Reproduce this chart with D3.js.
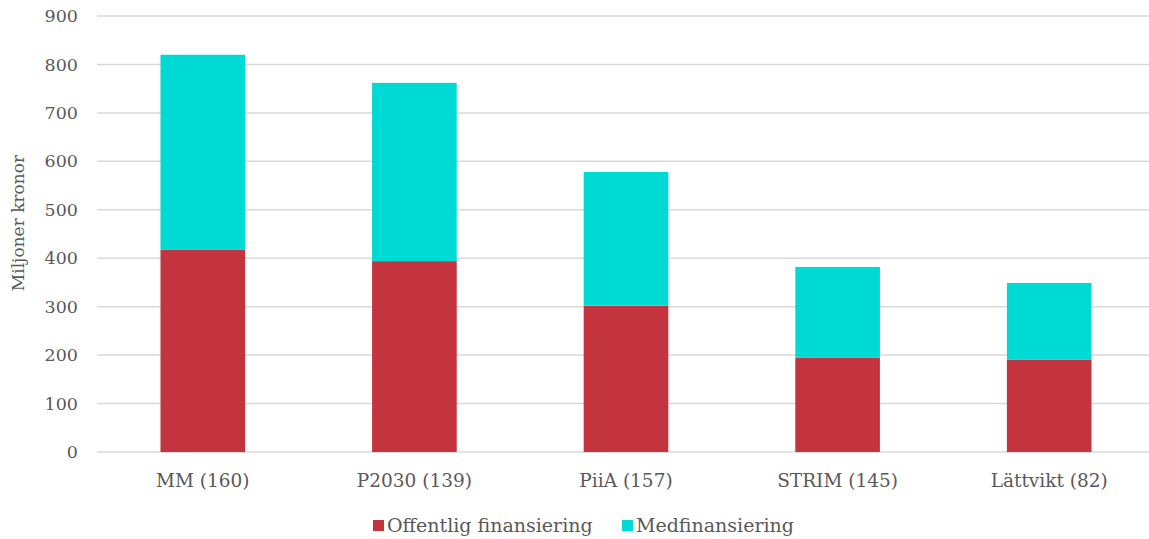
<!DOCTYPE html>
<html>
<head>
<meta charset="utf-8">
<script src="https://cdn.jsdelivr.net/npm/d3@7"></script>
<style>
  html, body { margin: 0; padding: 0; background: #fff; }
  svg text { font-family: Georgia, "DejaVu Serif", serif; fill: #595959; }
</style>
</head>
<body>
<svg id="chart" width="1149" height="539"></svg>
<script>
// Projects with number of participants in parentheses
const categories = ["MM (160)", "P2030 (139)", "PiiA (157)", "STRIM (145)", "Lättvikt (82)"];
// Million SEK, public funding and co-funding
const offentlig = [418, 394, 302, 195, 191];
const medfinansiering = [402, 368, 276, 187, 158];
const seriesNames = ["Offentlig finansiering", "Medfinansiering"];
const seriesColors = ["#C3343F", "#00DAD4"];
const yTicks = [0, 100, 200, 300, 400, 500, 600, 700, 800, 900];

(function draw() {
  const svg = d3.select("#chart");
  const mLeft = 97, mRight = 1155, mTop = 16, mBottom = 452;

  const x = d3.scaleBand().domain(categories).range([mLeft, mRight]).paddingInner(0.6).paddingOuter(0.3);
  const y = d3.scaleLinear().domain([0, 900]).range([mBottom, mTop]);

  // horizontal gridlines
  svg.append("g").selectAll("line").data(yTicks).join("line")
    .attr("x1", mLeft).attr("x2", mRight)
    .attr("y1", d => y(d)).attr("y2", d => y(d))
    .attr("stroke", "#d9d9d9").attr("stroke-width", 1.5);

  // y tick labels
  svg.append("g").selectAll("text").data(yTicks).join("text")
    .attr("x", 78).attr("y", d => y(d)).attr("dy", "0.35em")
    .attr("text-anchor", "end").attr("font-size", 17.5)
    .text(d => d);

  // y axis title
  svg.append("text")
    .attr("transform", "translate(24,223) rotate(-90)")
    .attr("text-anchor", "middle").attr("font-size", 17)
    .text("Miljoner kronor");

  // stacked bars
  const rows = categories.map((c, i) => ({ cat: c, off: offentlig[i], med: medfinansiering[i] }));
  const stack = d3.stack().keys(["off", "med"])(rows);
  svg.append("g").selectAll("g").data(stack).join("g")
    .attr("fill", (d, i) => seriesColors[i])
    .selectAll("rect").data(d => d).join("rect")
    .attr("x", d => x(d.data.cat))
    .attr("width", x.bandwidth())
    .attr("y", d => y(d[1]))
    .attr("height", d => y(d[0]) - y(d[1]));

  // category labels
  svg.append("g").selectAll("text").data(categories).join("text")
    .attr("x", d => x(d) + x.bandwidth() / 2).attr("y", 487)
    .attr("text-anchor", "middle").attr("font-size", 18.5)
    .text(d => d);

  // legend
  const legendX = [373, 622];
  const lg = svg.append("g").selectAll("g").data(seriesNames).join("g")
    .attr("transform", (d, i) => `translate(${legendX[i]},0)`);
  lg.append("rect").attr("x", 0).attr("y", 520).attr("width", 11).attr("height", 11)
    .attr("fill", (d, i) => seriesColors[i]);
  lg.append("text").attr("x", 14).attr("y", 532).attr("font-size", 19).text(d => d);
})();
</script>
</body>
</html>
